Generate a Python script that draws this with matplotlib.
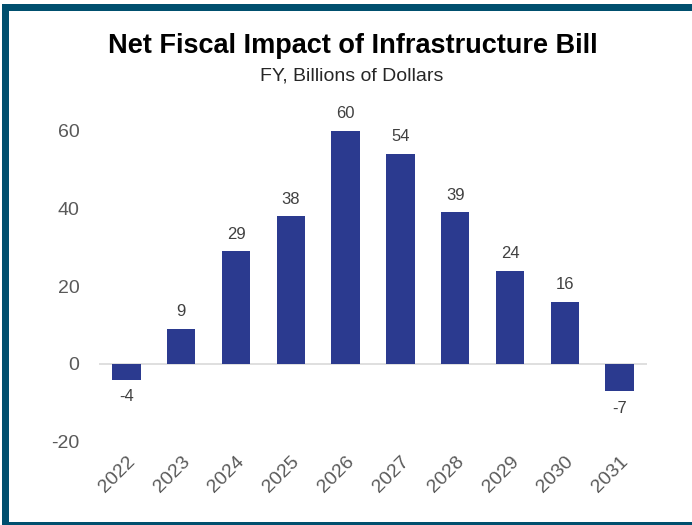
import matplotlib.pyplot as plt
from matplotlib.patches import Rectangle

years = ["2022", "2023", "2024", "2025", "2026", "2027", "2028", "2029", "2030", "2031"]
impact = [-4, 9, 29, 38, 60, 54, 39, 24, 16, -7]
yticks = [-20, 0, 20, 40, 60]

plt.rcParams['font.family'] = ['Liberation Sans', 'DejaVu Sans']
plt.rcParams['axes.unicode_minus'] = False

W, H = 692, 525
fig = plt.figure(figsize=(W / 100, H / 100), dpi=100)
ax = fig.add_axes([99 / W, (H - 441.7) / H, 548 / W, 310.8 / H])

x = range(len(years))
ax.bar(x, impact, width=0.52, color="#2b3a8f", zorder=3)
ax.axhline(0, color="#d9d9d9", lw=1.2, zorder=2)

# value labels above/below bars
for i, v in enumerate(impact):
    if v >= 0:
        ax.annotate(str(v), (i, v), xytext=(0, 7), textcoords="offset points",
                    ha="center", va="bottom", fontsize=12, color="#404040")
    else:
        ax.annotate(str(v), (i, v), xytext=(0, -7), textcoords="offset points",
                    ha="center", va="top", fontsize=12, color="#404040")

ax.set_xlim(-0.5, len(years) - 0.5)
ax.set_ylim(-20, 60)
ax.set_yticks(yticks)
ax.set_xticks(list(x))
ax.set_xticklabels(years, rotation=45, ha="right", rotation_mode="anchor")
ax.tick_params(axis="y", length=0, pad=14, labelsize=14, labelcolor="#595959")
ax.tick_params(axis="x", length=0, pad=8, labelsize=14, labelcolor="#595959")
for s in ax.spines.values():
    s.set_visible(False)

fig.text(353 / W, 1 - 46 / H, "Net Fiscal Impact of Infrastructure Bill", ha="center", va="center",
         fontsize=19.5, fontweight="bold", color="black")
fig.text(352 / W, 1 - 76 / H, "FY, Billions of Dollars", ha="center", va="center",
         fontsize=14, color="#262626")

# dark frame: top, left and bottom strips
frame = "#004f6e"
for (x0, y0, w, h) in [(2, 4, 690, 7), (2, 4, 7, 521), (2, 522, 690, 3)]:
    fig.patches.append(Rectangle((x0 / W, 1 - (y0 + h) / H), w / W, h / H,
                                 transform=fig.transFigure, color=frame, lw=0))

fig.savefig("out.png", dpi=100)
